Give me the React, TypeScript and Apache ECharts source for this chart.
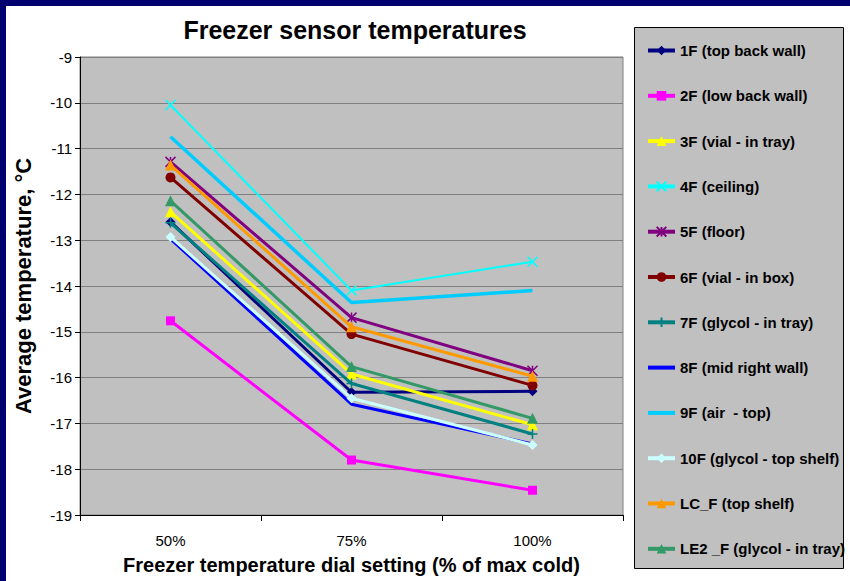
import React, { useEffect, useRef } from "react";
import * as echarts from "echarts";

const categories = ["50%", "75%", "100%"];
const seriesNames = [
  "1F (top back wall)",
  "2F (low back wall)",
  "3F (vial - in tray)",
  "4F (ceiling)",
  "5F (floor)",
  "6F (vial - in box)",
  "7F (glycol - in tray)",
  "8F (mid right wall)",
  "9F (air  - top)",
  "10F (glycol - top shelf)",
  "LC_F (top shelf)",
  "LE2 _F (glycol - in tray)",
];
const s1F = [-12.6, -16.32, -16.3];
const s2F = [-14.76, -17.8, -18.46];
const s3F = [-12.38, -15.92, -17.03];
const s4F = [-10.05, -14.1, -13.47];
const s5F = [-11.29, -14.69, -15.85];
const s6F = [-11.63, -15.05, -16.17];
const s7F = [-12.62, -16.13, -17.23];
const s8F = [-12.97, -16.58, -17.45];
const s9F = [-10.74, -14.36, -14.1];
const s10F = [-12.93, -16.45, -17.47];
const sLC = [-11.36, -14.89, -15.97];
const sLE2 = [-12.14, -15.76, -16.89];
const seriesValues = [s1F, s2F, s3F, s4F, s5F, s6F, s7F, s8F, s9F, s10F, sLC, sLE2];

const colors = [
  "#000080",
  "#FF00FF",
  "#FFFF00",
  "#00FFFF",
  "#800080",
  "#800000",
  "#008080",
  "#0000FF",
  "#00CCFF",
  "#CCFFFF",
  "#FF9900",
  "#339966",
];

const CROSS = "path://M0,0L10,10M10,0L0,10";
const STAR = "path://M0,0L10,10M10,0L0,10M5,0L5,10";
const PLUS = "path://M5,0L5,10M0,5L10,5";

const symbols: any[] = [
  { symbol: "diamond", size: 10 },
  { symbol: "rect", size: 9 },
  { symbol: "triangle", size: 11 },
  { symbol: CROSS, size: 10, stroke: true },
  { symbol: STAR, size: 10, stroke: true },
  { symbol: "circle", size: 10 },
  { symbol: PLUS, size: 10, stroke: true },
  { symbol: "none", size: 0 },
  { symbol: "none", size: 0 },
  { symbol: "diamond", size: 10 },
  { symbol: "triangle", size: 11 },
  { symbol: "triangle", size: 11 },
];
const widths = [3, 3, 3, 2, 3, 3, 3, 3, 3.5, 3, 3, 3];

const FONT = "'Liberation Sans', Arial, sans-serif";

export default function App() {
  const ref = useRef<HTMLDivElement>(null);
  useEffect(() => {
    document.body.style.margin = "0";
    const chart = echarts.init(ref.current!, null, { renderer: "svg" });
    const series = seriesNames.map((name, i) => {
      const sym = symbols[i];
      return {
        name,
        type: "line",
        data: seriesValues[i],
        symbol: sym.symbol,
        symbolSize: sym.size,
        showSymbol: sym.symbol !== "none",
        lineStyle: { color: colors[i], width: widths[i] },
        itemStyle: sym.stroke
          ? { color: colors[i], borderColor: colors[i], borderWidth: 1.5 }
          : { color: colors[i], borderWidth: 0 },
        emphasis: { disabled: true },
        z: 2 + i,
      };
    });
    const legendData = seriesNames.map((name, i) =>
      symbols[i].symbol === "none" ? { name, itemStyle: { opacity: 0 } } : { name }
    );
    chart.setOption({
      animation: false,
      backgroundColor: "#FFFFFF",
      textStyle: { fontFamily: FONT },
      title: {
        text: "Freezer sensor temperatures",
        left: 350,
        top: 12,
        textAlign: "center",
        textStyle: { fontSize: 25, fontWeight: "bold", color: "#000", fontFamily: FONT },
      },
      graphic: [
        { type: "rect", shape: { x: 0, y: 0, width: 850, height: 6 }, style: { fill: "#00006E" }, silent: true },
        { type: "rect", shape: { x: 0, y: 0, width: 6, height: 581 }, style: { fill: "#00006E" }, silent: true },
        {
          type: "rect",
          shape: { x: 634.5, y: 27.5, width: 209, height: 541 },
          style: { fill: "#C0C0C0", stroke: "#000", lineWidth: 1 },
          silent: true,
          z: -1,
        },
      ],
      legend: {
        orient: "vertical",
        left: 646,
        top: 43,
        padding: 0,
        itemWidth: 27,
        itemHeight: 12,
        itemGap: 30.3,
        selectedMode: false,
        lineStyle: { width: 4 },
        textStyle: { fontSize: 15, fontWeight: "bold", color: "#000", fontFamily: FONT, lineHeight: 14 },
        data: legendData,
      },
      grid: {
        left: 80,
        right: 227,
        top: 57,
        bottom: 66,
        show: true,
        backgroundColor: "#C0C0C0",
        borderColor: "#808080",
        borderWidth: 1,
        containLabel: false,
        outerBoundsMode: "none",
      },
      xAxis: {
        type: "category",
        data: categories,
        boundaryGap: true,
        name: "Freezer temperature dial setting (% of max cold)",
        nameLocation: "middle",
        nameGap: 40,
        nameTextStyle: { fontSize: 20, fontWeight: "bold", color: "#000", fontFamily: FONT },
        axisLine: { show: true, lineStyle: { color: "#000", width: 1 } },
        axisTick: { show: true, length: 6, lineStyle: { color: "#000" } },
        axisLabel: { fontSize: 15, color: "#000", margin: 18, fontFamily: FONT },
        splitLine: { show: false },
      },
      yAxis: {
        type: "value",
        min: -19,
        max: -9,
        interval: 1,
        name: "Average temperature, °C",
        nameLocation: "middle",
        nameGap: 46,
        nameRotate: 90,
        nameTextStyle: { fontSize: 22, fontWeight: "bold", color: "#000", fontFamily: FONT },
        axisLine: { show: true, lineStyle: { color: "#000", width: 1 } },
        axisTick: { show: true, length: 5, lineStyle: { color: "#000" } },
        axisLabel: { fontSize: 15, color: "#000", margin: 8, fontFamily: FONT },
        splitLine: { show: true, lineStyle: { color: "#808080", width: 1 } },
      },
      series,
    });
    return () => chart.dispose();
  }, []);
  return (
    <div
      ref={ref}
      style={{ position: "absolute", left: 0, top: 0, width: 850, height: 581 }}
    />
  );
}
